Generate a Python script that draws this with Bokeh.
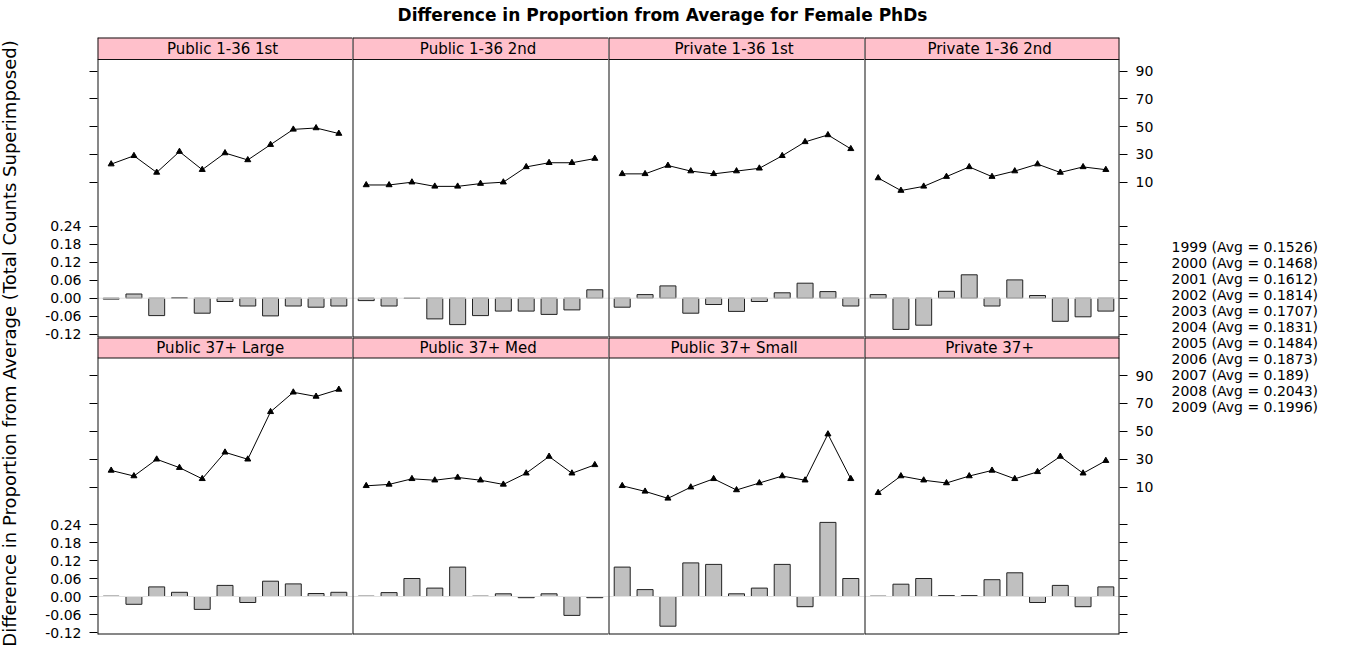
import math
from bokeh.plotting import figure
from bokeh.models import (Range1d, LinearAxis, FixedTicker, CustomJSTickFormatter,
                          BoxAnnotation, Span, Label)
from bokeh.layouts import row, column
from bokeh.embed import file_html
from bokeh.resources import INLINE

# ---------------- data ----------------
years = [1999, 2000, 2001, 2002, 2003, 2004, 2005, 2006, 2007, 2008, 2009]
avgs = [0.1526, 0.1468, 0.1612, 0.1814, 0.1707, 0.1831, 0.1484, 0.1873, 0.189, 0.2043, 0.1996]

panel_names = ["Public  1-36 1st", "Public  1-36 2nd", "Private  1-36 1st", "Private  1-36 2nd",
               "Public  37+  Large", "Public  37+ Med", "Public  37+ Small", "Private  37+"]

diff_pub_136_1st = [-0.003, 0.014, -0.058, 0.001, -0.050, -0.011, -0.026, -0.059, -0.026, -0.030, -0.026]
diff_pub_136_2nd = [-0.008, -0.026, -0.001, -0.069, -0.088, -0.058, -0.043, -0.043, -0.054, -0.039, 0.028]
diff_prv_136_1st = [-0.030, 0.012, 0.041, -0.050, -0.021, -0.044, -0.011, 0.018, 0.050, 0.022, -0.026]
diff_prv_136_2nd = [0.012, -0.104, -0.090, 0.023, 0.078, -0.026, 0.061, 0.009, -0.077, -0.062, -0.043]
diff_pub_37_large = [0.001, -0.026, 0.032, 0.014, -0.043, 0.037, -0.020, 0.051, 0.042, 0.010, 0.014]
diff_pub_37_med = [0.001, 0.013, 0.060, 0.028, 0.098, 0.001, 0.009, -0.004, 0.009, -0.063, -0.004]
diff_pub_37_small = [0.098, 0.023, -0.099, 0.112, 0.107, 0.009, 0.028, 0.107, -0.034, 0.247, 0.060]
diff_prv_37 = [0.001, 0.041, 0.060, 0.003, 0.003, 0.056, 0.079, -0.020, 0.037, -0.034, 0.032]

count_pub_136_1st = [23, 29, 17, 32, 19, 31, 26, 37, 48, 49, 45]
count_pub_136_2nd = [8, 8, 10, 7, 7, 9, 10, 21, 24, 24, 27]
count_prv_136_1st = [16, 16, 22, 18, 16, 18, 20, 29, 39, 44, 34]
count_prv_136_2nd = [13, 4, 7, 14, 21, 14, 18, 23, 17, 21, 19]
count_pub_37_large = [22, 18, 30, 24, 16, 35, 30, 64, 78, 75, 80]
count_pub_37_med = [11, 12, 16, 15, 17, 15, 12, 20, 32, 20, 26]
count_pub_37_small = [11, 7, 2, 10, 16, 8, 13, 18, 15, 48, 16]
count_prv_37 = [6, 18, 15, 13, 18, 22, 16, 21, 32, 20, 29]

diffs = [diff_pub_136_1st, diff_pub_136_2nd, diff_prv_136_1st, diff_prv_136_2nd,
         diff_pub_37_large, diff_pub_37_med, diff_pub_37_small, diff_prv_37]
counts = [count_pub_136_1st, count_pub_136_2nd, count_prv_136_1st, count_prv_136_2nd,
          count_pub_37_large, count_pub_37_med, count_pub_37_small, count_prv_37]

bar_ticks = [-0.12, -0.06, 0.0, 0.06, 0.12, 0.18, 0.24]
count_ticks = [10, 30, 50, 70, 90]

title_text = "Difference in Proportion from Average for Female PhDs"
ylabel_text = "Difference in Proportion from Average (Total Counts Superimposed)"

# ---------------- layout / style ----------------
FONT = "DejaVu Sans"
BAR_PPU = 300.0
OVERLAP = 6
ROWS = [dict(frame_h=300, strip_h=22.0, zero_px=260.7, ten_px=144.7, cnt_ppu=1.39, bottom_border=OVERLAP),
        dict(frame_h=297, strip_h=20.5, zero_px=259.0, ten_px=149.7, cnt_ppu=1.396, bottom_border=14)]
COL_W = [255, 256, 256, 255]
LEFT_B = 59
RIGHT_B = 40
YLAB_W = 38
LEG_W = 186
TITLE_H = 37
GRID_H = ROWS[0]["frame_h"] + ROWS[1]["frame_h"] + ROWS[1]["bottom_border"]
TOTAL_W = YLAB_W + sum(COL_W) + LEFT_B + RIGHT_B + LEG_W
EDGE = "#111111"


def style_axis(ax):
    ax.axis_line_color = None
    ax.major_tick_line_color = "black"
    ax.major_tick_out = 8
    ax.major_tick_in = 0
    ax.minor_tick_line_color = None
    ax.major_label_text_font = FONT
    ax.major_label_text_font_size = "14px"
    ax.major_label_text_color = "black"
    ax.major_label_standoff = 8


def make_panel(i):
    r, c = divmod(i, 4)
    g = ROWS[r]
    fh = g["frame_h"]
    bar_hi = g["zero_px"] / BAR_PPU
    bar_lo = -(fh - g["zero_px"]) / BAR_PPU
    cnt_hi = 10 + g["ten_px"] / g["cnt_ppu"]
    cnt_lo = 10 - (fh - g["ten_px"]) / g["cnt_ppu"]
    strip_bottom = (g["zero_px"] - g["strip_h"]) / BAR_PPU
    strip_mid = (g["zero_px"] - g["strip_h"] / 2.0) / BAR_PPU

    def to_bar(cv):
        return bar_lo + (cv - cnt_lo) * (bar_hi - bar_lo) / (cnt_hi - cnt_lo)

    def to_cnt(bv):
        return cnt_lo + (bv - bar_lo) * (cnt_hi - cnt_lo) / (bar_hi - bar_lo)

    lb = LEFT_B if c == 0 else 0
    rb = RIGHT_B if c == 3 else 0
    w = COL_W[c] + lb + rb
    h = fh + g["bottom_border"]
    x0, x1 = 0.4, 11.6
    p = figure(width=w, height=h, x_range=Range1d(x0, x1), y_range=Range1d(bar_lo, bar_hi),
               output_backend="svg", toolbar_location=None, x_axis_location=None,
               y_axis_location=None, min_border=0, title=None)
    p.min_border_left = lb
    p.min_border_right = rb
    p.min_border_top = 0
    p.min_border_bottom = g["bottom_border"]
    p.extra_y_ranges = {"counts": Range1d(cnt_lo, cnt_hi)}
    p.outline_line_color = None
    p.background_fill_color = "white"
    # lower row lets the upper row's lowest tick label show through its margins
    p.border_fill_color = None if r == 1 else "white"
    p.grid.visible = False

    p.add_layout(Span(location=0, dimension="width", line_color="#E2E2E2", line_width=1))

    xs = list(range(1, len(years) + 1))
    p.vbar(x=xs, top=diffs[i], bottom=0, width=0.7, fill_color="#C0C0C0",
           line_color="#222222", line_width=1)
    p.line(xs, counts[i], y_range_name="counts", line_color="black", line_width=1)
    p.scatter(xs, counts[i], y_range_name="counts", marker="triangle", size=6,
              fill_color="black", line_color="black")

    # strip
    p.add_layout(BoxAnnotation(bottom=strip_bottom, fill_color="#FFC0CB", fill_alpha=1.0,
                               line_color=None))
    p.add_layout(Label(x=6, y=strip_mid, text=panel_names[i], text_align="center",
                       text_baseline="middle", text_font=FONT, text_font_size="15px",
                       text_color="black"))
    # panel edges, each drawn once
    p.add_layout(Span(location=strip_bottom, dimension="width", line_color=EDGE, line_width=1))
    p.add_layout(Span(location=bar_hi, dimension="width", line_color=EDGE, line_width=2))
    p.add_layout(Span(location=bar_lo, dimension="width", line_color=EDGE, line_width=2))
    p.add_layout(Span(location=x0, dimension="height", line_color=EDGE, line_width=2))
    if c == 3:
        p.add_layout(Span(location=x1, dimension="height", line_color=EDGE, line_width=2))

    if c == 0:
        ticks = bar_ticks + [to_bar(v) for v in count_ticks]
        ax = LinearAxis(ticker=FixedTicker(ticks=ticks),
                        formatter=CustomJSTickFormatter(code="return tick > 0.3 ? '' : tick.toFixed(2);"))
        style_axis(ax)
        p.add_layout(ax, "left")
    if c == 3:
        ticks = count_ticks + [to_cnt(v) for v in bar_ticks]
        ax = LinearAxis(y_range_name="counts", ticker=FixedTicker(ticks=ticks),
                        formatter=CustomJSTickFormatter(code="return tick < 5 ? '' : tick.toFixed(0);"))
        style_axis(ax)
        p.add_layout(ax, "right")
    return p


def text_fig(w, h):
    f = figure(width=w, height=h, x_range=Range1d(0, w), y_range=Range1d(h, 0),
               output_backend="svg", toolbar_location=None, x_axis_location=None,
               y_axis_location=None, min_border=0, title=None)
    f.outline_line_color = None
    f.background_fill_color = "white"
    f.border_fill_color = "white"
    f.grid.visible = False
    return f


panels = [make_panel(i) for i in range(8)]

# title
title_fig = text_fig(TOTAL_W, TITLE_H)
title_fig.add_layout(Label(x=662, y=14, text=title_text, text_align="center",
                           text_baseline="middle", text_font=FONT, text_font_size="17px",
                           text_font_style="bold", text_color="black"))

# y label
ylab_fig = text_fig(YLAB_W, GRID_H)
ylab_fig.add_layout(Label(x=9, y=306, text=ylabel_text, angle=math.pi / 2, text_align="center",
                          text_baseline="middle", text_font=FONT, text_font_size="18px",
                          text_color="black"))

# legend (years with averages)
leg_fig = text_fig(LEG_W, GRID_H)
for k, (yr, av) in enumerate(zip(years, avgs)):
    leg_fig.add_layout(Label(x=12, y=209 + 16 * k, text=f"{yr}  (Avg = {av})",
                             text_align="left", text_baseline="middle", text_font=FONT,
                             text_font_size="14px", text_color="black"))

top_row = row(*panels[:4], spacing=0)
bottom_row = row(*panels[4:], spacing=0, margin=(-OVERLAP, 0, 0, 0))
grid = column(top_row, bottom_row, spacing=0)
root = column(title_fig, row(ylab_fig, grid, leg_fig, spacing=0), spacing=0)

open("out.html", "w").write(file_html(root, INLINE))
